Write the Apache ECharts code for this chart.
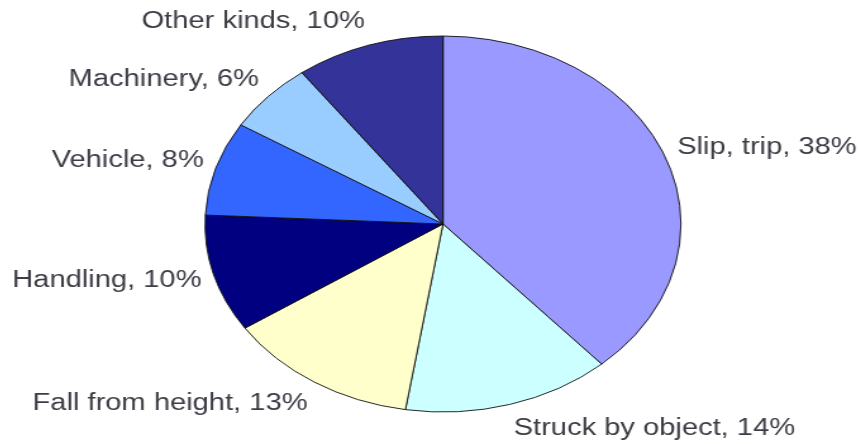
<!DOCTYPE html>
<html><head><meta charset="utf-8">
<script src="https://cdn.jsdelivr.net/npm/echarts@6.0.0/dist/echarts.min.js"></script>
<style>
html,body{margin:0;padding:0;width:858px;height:444px;overflow:hidden;background:#fff}
#wrap{position:absolute;left:-40px;top:0;width:741px;height:444px;transform:scaleX(1.2655);transform-origin:0 0;}
</style></head>
<body><div id="wrap"></div>
<script>
// Data
const categories = ['Slip, trip', 'Struck by object', 'Fall from height', 'Handling', 'Vehicle', 'Machinery', 'Other kinds'];
const values = [38, 14, 13, 10, 8, 6, 10];
const colors = ['#9999FF', '#CCFFFF', '#FFFFCC', '#000080', '#3366FF', '#99CCFF', '#333399'];

// Layout (the original picture is a round pie stretched horizontally)
const SX = 1.2655, OFFSET = 40;
const CX = (443 + OFFSET) / SX, CY = 224, R = 188, L = 10;

const chart = echarts.init(document.getElementById('wrap'), null, {renderer: 'canvas'});
chart.setOption({
  animation: false,
  backgroundColor: '#fff',
  series: [{
    type: 'pie',
    center: [CX, CY],
    radius: [0, R],
    startAngle: 90,
    clockwise: true,
    avoidLabelOverlap: false,
    emphasis: {disabled: true},
    itemStyle: {borderColor: '#111', borderWidth: 0.9},
    label: {
      show: true,
      position: 'outside',
      formatter: '{b}, {c}%',
      color: '#3d3d46',
      fontFamily: 'Liberation Sans, Arial, sans-serif',
      fontSize: 23,
      overflow: 'none',
      bleedMargin: 0,
      distanceToLabelLine: 0
    },
    labelLine: {show: false, length: L, length2: 0},
    labelLayout: function (p) {
      const yc = p.labelRect.y + p.labelRect.height / 2;
      const dir = (yc - CY) / (R + L);
      return {dy: 15 * dir};
    },
    data: categories.map((name, i) => ({name: name, value: values[i], itemStyle: {color: colors[i]}}))
  }]
});
</script>
</body></html>
